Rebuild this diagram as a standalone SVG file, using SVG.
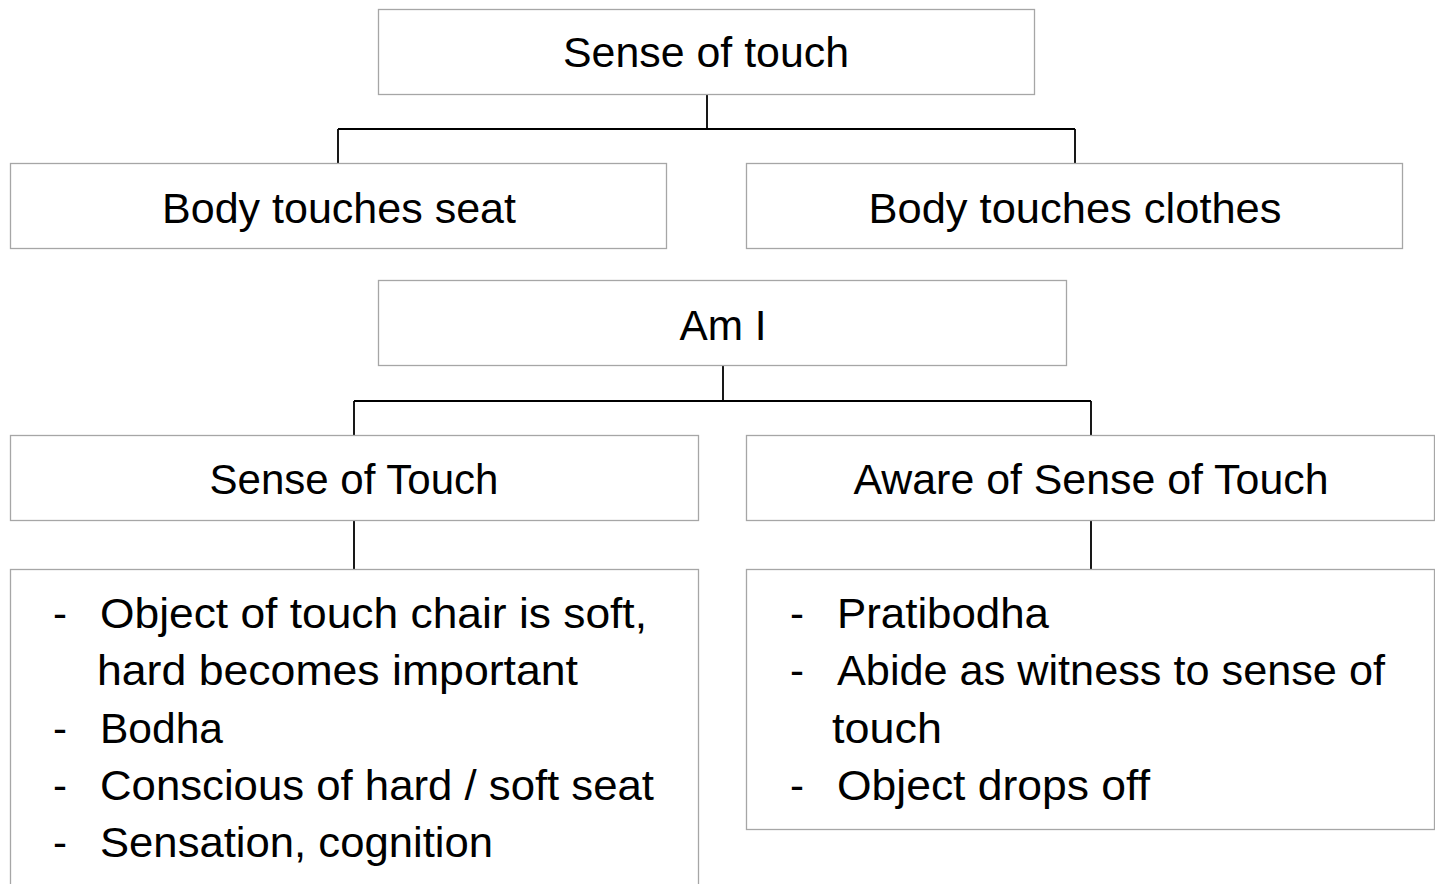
<svg xmlns="http://www.w3.org/2000/svg" width="1435" height="884" viewBox="0 0 1435 884">
<style>
.box{fill:#fff;stroke:#a6a6a6;stroke-width:1.3}
.t{font-family:"Liberation Sans",Arial,sans-serif;font-size:42px;fill:#000}
.c{text-anchor:middle}
.conn{stroke:#000;stroke-width:1.8;fill:none}
</style>
<rect width="1435" height="884" fill="#fff"/>
<g id="connectors">
<path class="conn" d="M707,95V129M338,129H1075M338,129V163M1075,129V163"/>
<path class="conn" d="M723,366V401M354,401H1091M354,401V435M1091,401V435"/>
<path class="conn" d="M354,520V569M1091,520V569"/>
</g>
<g id="n1"><rect class="box" x="378.5" y="9.5" width="656" height="85"/><text class="t c" x="706" y="67" textLength="286" lengthAdjust="spacingAndGlyphs">Sense of touch</text></g>
<g id="n2"><rect class="box" x="10.5" y="163.5" width="656" height="85"/><text class="t c" x="339" y="223" textLength="354" lengthAdjust="spacingAndGlyphs">Body touches seat</text></g>
<g id="n3"><rect class="box" x="746.5" y="163.5" width="656" height="85"/><text class="t c" x="1075" y="223" textLength="413" lengthAdjust="spacingAndGlyphs">Body touches clothes</text></g>
<g id="n4"><rect class="box" x="378.5" y="280.5" width="688" height="85"/><text class="t c" x="723" y="340" textLength="87" lengthAdjust="spacingAndGlyphs">Am I</text></g>
<g id="n5"><rect class="box" x="10.5" y="435.5" width="688" height="85"/><text class="t c" x="354" y="494" textLength="289" lengthAdjust="spacingAndGlyphs">Sense of Touch</text></g>
<g id="n6"><rect class="box" x="746.5" y="435.5" width="688" height="85"/><text class="t c" x="1091" y="494" textLength="475" lengthAdjust="spacingAndGlyphs">Aware of Sense of Touch</text></g>
<g id="n7"><rect class="box" x="10.5" y="569.5" width="688" height="330"/>
<text class="t" x="53" y="628">-</text><text class="t" x="100" y="628" textLength="547" lengthAdjust="spacingAndGlyphs">Object of touch chair is soft,</text>
<text class="t" x="97" y="685" textLength="481" lengthAdjust="spacingAndGlyphs">hard becomes important</text>
<text class="t" x="53" y="743">-</text><text class="t" x="100" y="743" textLength="123" lengthAdjust="spacingAndGlyphs">Bodha</text>
<text class="t" x="53" y="800">-</text><text class="t" x="100" y="800" textLength="554" lengthAdjust="spacingAndGlyphs">Conscious of hard / soft seat</text>
<text class="t" x="53" y="857">-</text><text class="t" x="100" y="857" textLength="393" lengthAdjust="spacingAndGlyphs">Sensation, cognition</text>
</g>
<g id="n8"><rect class="box" x="746.5" y="569.5" width="688" height="260"/>
<text class="t" x="790" y="628">-</text><text class="t" x="837" y="628" textLength="212" lengthAdjust="spacingAndGlyphs">Pratibodha</text>
<text class="t" x="790" y="685">-</text><text class="t" x="837" y="685" textLength="548" lengthAdjust="spacingAndGlyphs">Abide as witness to sense of</text>
<text class="t" x="832" y="743" textLength="110" lengthAdjust="spacingAndGlyphs">touch</text>
<text class="t" x="790" y="800">-</text><text class="t" x="837" y="800" textLength="313" lengthAdjust="spacingAndGlyphs">Object drops off</text>
</g>
</svg>
